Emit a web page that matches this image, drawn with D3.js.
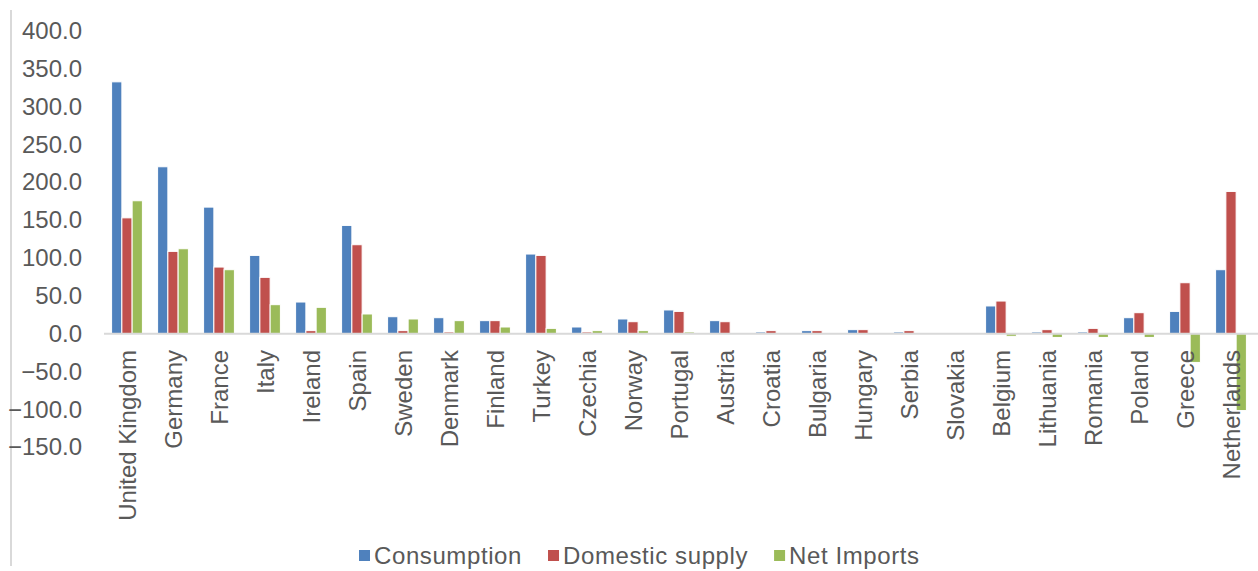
<!DOCTYPE html>
<html>
<head>
<meta charset="utf-8">
<script src="https://cdn.jsdelivr.net/npm/d3@7"></script>
<style>
  html, body { margin: 0; padding: 0; background: #fff; }
  svg { display: block; }
  text { font-family: "Liberation Sans", Arial, sans-serif; fill: #595959; }
</style>
</head>
<body>
<svg id="chart" width="1258" height="571"></svg>
<script>
const categories = ["United Kingdom","Germany","France","Italy","Ireland","Spain","Sweden","Denmark","Finland","Turkey","Czechia","Norway","Portugal","Austria","Croatia","Bulgaria","Hungary","Serbia","Slovakia","Belgium","Lithuania","Romania","Poland","Greece","Netherlands"];
const consumption = [332.7, 220.5, 167.2, 103.4, 41.8, 143.0, 22.4, 21.1, 17.2, 105.2, 8.8, 19.4, 31.3, 17.2, 2.2, 4.0, 5.3, 2.2, 0, 36.6, 2.2, 2.2, 21.1, 29.4, 84.5];
const domesticSupply = [153.0, 108.7, 88.0, 74.4, 4.0, 117.5, 4.0, 2.2, 17.2, 103.4, 2.2, 15.8, 29.4, 15.8, 4.0, 4.0, 5.3, 4.0, 0, 43.1, 5.3, 7.0, 27.7, 67.3, 187.9];
const netImports = [175.6, 112.2, 84.5, 38.3, 34.8, 26.0, 19.4, 17.2, 8.8, 7.0, 4.0, 4.0, 2.2, 0, 0, 0, 0, 0, 0, -3.5, -5.0, -5.0, -5.0, -38.0, -101.6];
const seriesNames = ["Consumption", "Domestic supply", "Net Imports"];
const yTicks = [-150, -100, -50, 0, 50, 100, 150, 200, 250, 300, 350, 400];

const seriesValues = [consumption, domesticSupply, netImports];
const colors = ["#4F81BD", "#C0504D", "#9BBB59"];

const svg = d3.select("#chart");

// left chart border line
svg.append("line")
  .attr("x1", 11).attr("x2", 11).attr("y1", 10).attr("y2", 566)
  .attr("stroke", "#d9d9d9").attr("stroke-width", 2);

const plotLeft = 104, plotRight = 1254;
const x = d3.scaleBand().domain(categories).range([plotLeft, plotRight])
  .paddingInner(0.33).paddingOuter(0.165);
const xs = d3.scaleBand().domain(seriesNames).range([0, x.bandwidth()]).padding(0);
const y = d3.scaleLinear().domain([-150, 400]).range([447.2, 30.9]);

// y tick labels
const yAxis = d3.axisLeft(y).tickValues(yTicks).tickFormat(d3.format(".1f")).tickSize(0).tickPadding(0);
const ya = svg.append("g").attr("transform", "translate(82,0)").call(yAxis);
ya.select(".domain").remove();
ya.selectAll("text").style("font-size", "24px").attr("fill", "#595959")
  .style("font-family", "'Liberation Sans', Arial, sans-serif");

// bars
const data = [];
categories.forEach((c, i) => {
  seriesNames.forEach((s, j) => data.push({ c, s, j, v: seriesValues[j][i] }));
});
svg.append("g").selectAll("rect").data(data).join("rect")
  .attr("x", d => x(d.c) + xs(d.s))
  .attr("width", xs.bandwidth())
  .attr("y", d => y(Math.max(0, d.v)))
  .attr("height", d => Math.abs(y(d.v) - y(0)))
  .attr("fill", d => colors[d.j])
  .attr("stroke", "#fff").attr("stroke-width", 1);

// zero line
svg.append("line")
  .attr("x1", plotLeft).attr("x2", 1258).attr("y1", y(0)).attr("y2", y(0))
  .attr("stroke", "#d9d9d9").attr("stroke-width", 2);

// category labels (rotated)
const xAxis = d3.axisBottom(x).tickSize(0).tickPadding(0);
const xa = svg.append("g").attr("transform", "translate(0,350)").call(xAxis);
xa.select(".domain").remove();
xa.selectAll("text")
  .style("font-size", "24px")
  .style("font-family", "'Liberation Sans', Arial, sans-serif")
  .attr("fill", "#595959")
  .attr("text-anchor", "end")
  .attr("transform", "rotate(-90)")
  .attr("x", 0).attr("y", 0).attr("dy", "0.36em");

// legend
const legend = svg.append("g").attr("transform", "translate(359,556)");
let lx = 0;
seriesNames.forEach((s, j) => {
  const g = legend.append("g").attr("transform", `translate(${lx},0)`);
  g.append("rect").attr("x", 0).attr("y", -6).attr("width", 11).attr("height", 11).attr("fill", colors[j]);
  const t = g.append("text").attr("x", 15).attr("y", 0).attr("dy", "0.35em")
    .style("font-size", "24px").style("letter-spacing", "0.6px").text(s);
  lx += 15 + t.node().getComputedTextLength() + 26;
});
</script>
</body>
</html>
